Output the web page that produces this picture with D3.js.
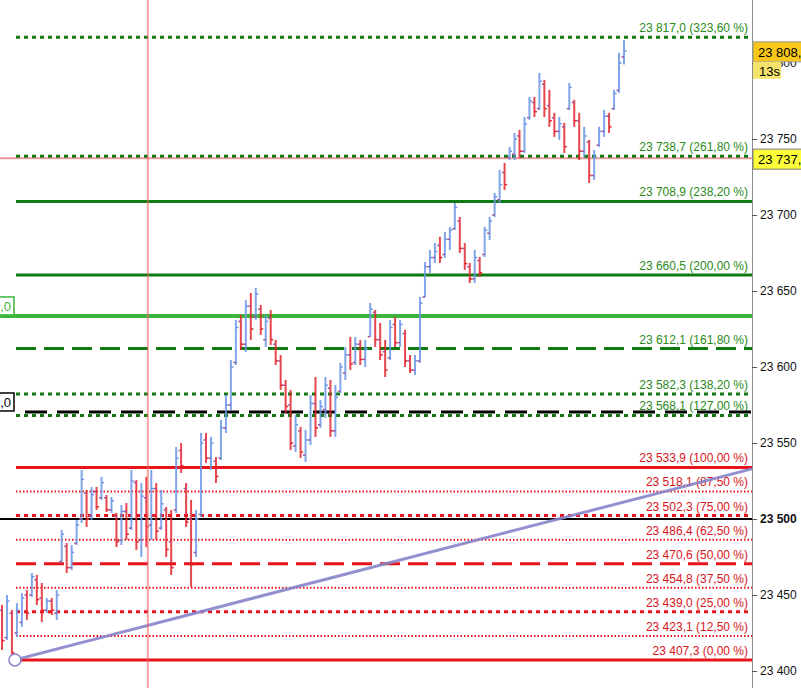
<!DOCTYPE html>
<html>
<head>
<meta charset="utf-8">
<style>
  body { margin: 0; background: #fff; font-family: "Liberation Sans", Arial, sans-serif; }
  svg { display: block; }
  .axisy path { stroke: #8c8c8c; }
  .axisy line { stroke: #555; }
  .axisy text { font-size: 12px; fill: #111; font-family: "Liberation Sans", Arial, sans-serif; }
  .lvl-label { font-size: 12px; text-anchor: end; }
</style>
</head>
<body>
<script src="https://d3js.org/d3.v7.min.js"></script>
<script>
// price bars (one per slot, left to right)
var barHigh = [23443.4,23450.0,23440.1,23444.7,23451.3,23453.3,23464.5,23463.2,23457.9,23448.0,
  23448.0,23453.3,23492.8,23484.2,23482.9,23499.4,23532.3,23519.1,23521.1,23521.1,
  23527.7,23515.8,23514.5,23504.0,23509.2,23510.5,23532.3,23525.7,23523.7,23527.7,
  23532.3,23523.7,23519.1,23507.9,23505.9,23547.4,23550.0,23523.7,23512.5,23505.9,
  23556.6,23556.6,23554.0,23540.8,23565.2,23581.6,23604.6,23631.0,23634.2,23644.1,
  23648.7,23652.0,23640.8,23634.2,23637.5,23617.8,23607.9,23591.5,23584.9,23568.4,
  23560.6,23558.6,23581.6,23593.4,23578.3,23593.4,23591.5,23588.2,23602.7,23613.2,
  23619.8,23619.8,23617.8,23617.8,23642.1,23637.5,23629.0,23617.8,23631.0,23632.9,
  23631.0,23624.4,23607.9,23607.9,23646.1,23669.1,23677.0,23681.6,23685.6,23688.9,
  23692.2,23707.9,23698.7,23681.6,23668.5,23677.0,23672.4,23692.2,23698.7,23714.5,
  23729.7,23734.3,23744.8,23754.0,23756.0,23764.5,23777.7,23777.7,23793.5,23788.9,
  23782.3,23767.2,23764.5,23760.6,23786.9,23775.7,23767.2,23758.0,23749.4,23742.8,
  23758.0,23769.1,23767.2,23782.3,23806.7,23815.2];
var barLow = [23413.8,23420.4,23407.3,23422.4,23429.0,23433.6,23448.7,23443.4,23432.2,23438.2,
  23436.8,23433.6,23471.1,23464.5,23466.5,23482.9,23497.4,23494.8,23499.4,23505.9,
  23512.5,23504.6,23504.0,23481.6,23482.9,23486.2,23492.8,23479.6,23475.0,23481.6,
  23486.2,23486.2,23492.8,23475.0,23463.2,23504.0,23530.3,23494.8,23455.3,23475.0,
  23501.3,23536.9,23532.3,23523.7,23538.8,23556.6,23571.7,23601.3,23611.2,23609.9,
  23617.8,23631.0,23621.1,23613.2,23614.5,23601.3,23584.9,23569.8,23545.4,23544.1,
  23540.2,23537.5,23548.7,23554.0,23559.9,23566.5,23554.0,23554.0,23582.9,23591.5,
  23598.1,23601.3,23601.3,23600.0,23619.8,23613.2,23604.6,23593.4,23604.6,23613.2,
  23613.2,23600.0,23596.1,23594.8,23602.7,23646.1,23661.9,23668.5,23668.5,23671.8,
  23677.0,23690.2,23675.0,23663.9,23655.3,23655.3,23659.3,23672.4,23683.6,23698.7,
  23707.9,23716.5,23736.2,23736.2,23737.6,23740.8,23762.6,23764.5,23769.1,23764.5,
  23758.0,23751.4,23749.4,23740.8,23769.1,23758.0,23736.2,23738.2,23721.1,23723.1,
  23744.8,23751.4,23754.0,23769.1,23780.3,23799.0];
var barOpen = [23440,23422,23438,23425,23432,23450,23450,23460,23448,23440,
  23446,23438,23472,23482,23468,23484,23500,23517,23502,23518,
  23514,23514,23506,23502,23486,23505,23494,23524,23486,23514,
  23496,23520,23494,23506,23485,23506,23545,23520,23500,23478,
  23503,23552,23540,23538,23540,23560,23575,23603,23630,23615,
  23640,23633,23638,23618,23632,23615,23604,23588,23575,23548,
  23558,23542,23552,23576,23562,23572,23586,23558,23584,23596,
  23608,23603,23615,23605,23620,23636,23618,23610,23606,23628,
  23616,23622,23604,23598,23604,23646,23666,23672,23680,23674,
  23684,23691,23696,23678,23666,23658,23670,23674,23688,23700,
  23710,23728,23738,23740,23752,23742,23764,23774,23770,23786,
  23772,23764,23755,23758,23770,23774,23762,23742,23748,23726,
  23746,23755,23765,23770,23782,23804];
var barClose = [23420,23446,23412,23440,23448,23438,23462,23447,23440,23446,
  23440,23450,23490,23468,23478,23496,23526,23500,23516,23508,
  23524,23506,23512,23485,23505,23490,23525,23485,23515,23495,
  23520,23492,23510,23480,23468,23540,23535,23498,23470,23500,
  23550,23540,23550,23528,23560,23575,23600,23626,23615,23640,
  23625,23648,23625,23630,23618,23604,23588,23574,23550,23562,
  23544,23552,23576,23560,23574,23588,23558,23580,23600,23608,
  23602,23615,23605,23612,23638,23618,23608,23598,23626,23616,
  23628,23604,23598,23604,23642,23666,23672,23676,23672,23684,
  23690,23705,23678,23668,23658,23672,23662,23690,23696,23712,
  23720,23720,23742,23750,23742,23760,23775,23768,23788,23770,
  23762,23755,23760,23745,23784,23762,23742,23752,23726,23738,
  23755,23765,23758,23780,23800,23808];

// fibonacci levels
var greenPrices = [23817.0, 23738.7, 23708.9, 23660.5, 23612.1, 23582.3, 23568.1];
var greenPcts   = [323.60, 261.80, 238.20, 200.00, 161.80, 138.20, 127.00];
var redPrices = [23533.9, 23518.1, 23502.3, 23486.4, 23470.6, 23454.8, 23439.0, 23423.1, 23407.3];
var redPcts   = [100.00, 87.50, 75.00, 62.50, 50.00, 37.50, 25.00, 12.50, 0.00];

// other drawings
var axisTicks = [23400, 23450, 23500, 23550, 23600, 23650, 23700, 23750, 23800];
var alertPrice = 23633.6;      // light green horizontal line
var alertDashPrice = 23570.4;  // black dashed line
var roundPrice = 23500;        // black solid line
var trendStart = {bar: 2.6, price: 23407.3};
var trendEnd = {bar: 150.7, price: 23533.0};
var crossBar = 29.3, crossPrice = 23737.4;
var lastPrice = 23808.0;

var W = 801, H = 688, axisX = 752;

var svg = d3.select("body").append("svg").attr("width", W).attr("height", H);

var x = d3.scaleLinear().domain([0, barHigh.length - 1]).range([2, 624]);
var y = d3.scaleLinear().domain([23400, 23800]).range([671, 63]);

var fmtPrice = function(v) { return d3.format(",.1f")(v).replace(",", " ").replace(".", ","); };
var fmtPct = function(v) { return d3.format(".2f")(v).replace(".", ",") + " %"; };

// style per level (kept apart from values)
var greenStyle = ["bigdot", "bigdot", "solid", "solid", "dash", "bigdot", "bigdot"];
var redStyle = ["solid", "fine", "bigdot", "fine", "dash", "fine", "bigdot", "fine", "solid"];
var dashFor = { solid: null, dash: "20,8", bigdot: "4,4", fine: "1.5,2" };
var widthFor = { solid: 3, dash: 3, bigdot: 3, fine: 2 };

// black round number line
svg.append("line")
  .attr("x1", 0).attr("x2", axisX)
  .attr("y1", y(roundPrice)).attr("y2", y(roundPrice))
  .style("stroke", "#000").style("stroke-width", 2);

function drawLevels(prices, pcts, styles, color, textColor) {
  prices.forEach(function(p, i) {
    var s = styles[i];
    svg.append("line")
      .attr("x1", 16).attr("x2", axisX)
      .attr("y1", y(p)).attr("y2", y(p))
      .style("stroke", color)
      .style("stroke-width", widthFor[s])
      .style("stroke-dasharray", dashFor[s]);
    svg.append("text")
      .attr("class", "lvl-label")
      .attr("x", 748).attr("y", y(p) - 5)
      .style("fill", textColor)
      .text(fmtPrice(p) + " (" + fmtPct(pcts[i]) + ")");
  });
}

// crosshair horizontal
svg.append("line")
  .attr("x1", 0).attr("x2", axisX)
  .attr("y1", y(crossPrice)).attr("y2", y(crossPrice))
  .style("stroke", "#e89a9a").style("stroke-width", 2);

drawLevels(redPrices, redPcts, redStyle, "#e8141c", "#d8141c");
drawLevels(greenPrices, greenPcts, greenStyle, "#0f7a12", "#2a8a1a");

// black dashed alert line
svg.append("line")
  .attr("x1", 25).attr("x2", axisX)
  .attr("y1", y(alertDashPrice)).attr("y2", y(alertDashPrice))
  .style("stroke", "#000").style("stroke-width", 3)
  .style("stroke-dasharray", "22,10");

// light green line
svg.append("line")
  .attr("x1", 0).attr("x2", axisX)
  .attr("y1", y(alertPrice)).attr("y2", y(alertPrice))
  .style("stroke", "#3db53d").style("stroke-width", 4);

// left boxes
function leftBox(price, color, txt) {
  var g = svg.append("g");
  g.append("rect").attr("x", -70).attr("y", y(price) - 19).attr("width", 84).attr("height", 18)
    .style("fill", "#fff").style("stroke", color).style("stroke-width", 1.5);
  g.append("text").attr("x", 11).attr("y", y(price) - 5).attr("text-anchor", "end")
    .style("font-size", "13px").style("fill", color).text(txt);
}
leftBox(alertPrice, "#3db53d", "23 633,0");
leftBox(alertDashPrice, "#000", "23 572,0");

// price bars
var bars = svg.append("g");
barHigh.forEach(function(h, i) {
  var up = barClose[i] >= barOpen[i];
  var c = up ? "#6b97e6" : "#e3262e";
  var cx = x(i);
  bars.append("line").attr("x1", cx).attr("x2", cx).attr("y1", y(h)).attr("y2", y(barLow[i]))
    .style("stroke", c).style("stroke-width", 2).style("opacity", 0.85);
  bars.append("line").attr("x1", cx - 2.5).attr("x2", cx).attr("y1", y(barOpen[i])).attr("y2", y(barOpen[i]))
    .style("stroke", "#a0529a").style("stroke-width", 1.5);
  bars.append("line").attr("x1", cx).attr("x2", cx + 2.5).attr("y1", y(barClose[i])).attr("y2", y(barClose[i]))
    .style("stroke", c).style("stroke-width", 1.5);
});

// trend line
svg.append("line")
  .attr("x1", x(trendStart.bar)).attr("y1", y(trendStart.price))
  .attr("x2", x(trendEnd.bar)).attr("y2", y(trendEnd.price))
  .style("stroke", "#8884cc").style("stroke-width", 3).style("opacity", 0.9);
svg.append("circle")
  .attr("cx", x(trendStart.bar)).attr("cy", y(trendStart.price)).attr("r", 6)
  .style("fill", "#fff").style("stroke", "#8884cc").style("stroke-width", 1.5);

// crosshair vertical
svg.append("line")
  .attr("x1", x(crossBar)).attr("x2", x(crossBar)).attr("y1", 0).attr("y2", H)
  .style("stroke", "#e66").style("stroke-width", 2).style("opacity", 0.6);

// white strip behind axis
svg.append("rect").attr("x", axisX).attr("y", 0).attr("width", W - axisX).attr("height", H).style("fill", "#fff");

var axis = svg.append("g")
  .attr("class", "axisy")
  .attr("transform", "translate(" + axisX + ",0)")
  .call(d3.axisRight(y).tickValues(axisTicks).tickSize(5).tickSizeOuter(0)
    .tickFormat(function(v) { return d3.format(",")(v).replace(",", " "); }));
axis.select(".domain").attr("d", "M0.5,0V" + H);
axis.selectAll(".tick text").attr("x", 8)
  .style("font-weight", function(v) { return v === roundPrice ? "bold" : null; });

// price boxes on the axis
var lastY = y(lastPrice);
svg.append("rect").attr("x", axisX + 1).attr("y", lastY - 9).attr("width", 60).attr("height", 20)
  .style("fill", "#f7c81a").style("stroke", "#999");
svg.append("text").attr("x", axisX + 6).attr("y", lastY + 6).style("font-size", "13px").style("fill", "#000")
  .text(fmtPrice(lastPrice));
svg.append("rect").attr("x", axisX + 1).attr("y", lastY + 11).attr("width", 28).attr("height", 17)
  .style("fill", "#f4e46c");
svg.append("text").attr("x", axisX + 7).attr("y", lastY + 25).style("font-size", "13px").style("fill", "#000")
  .text("13s");

var crossY = y(crossPrice);
svg.append("rect").attr("x", axisX + 1).attr("y", crossY - 9).attr("width", 60).attr("height", 20)
  .style("fill", "#ffff3a").style("stroke", "#777");
svg.append("text").attr("x", axisX + 6).attr("y", crossY + 6).style("font-size", "13px").style("fill", "#000")
  .text(fmtPrice(crossPrice));
</script>
</body>
</html>
